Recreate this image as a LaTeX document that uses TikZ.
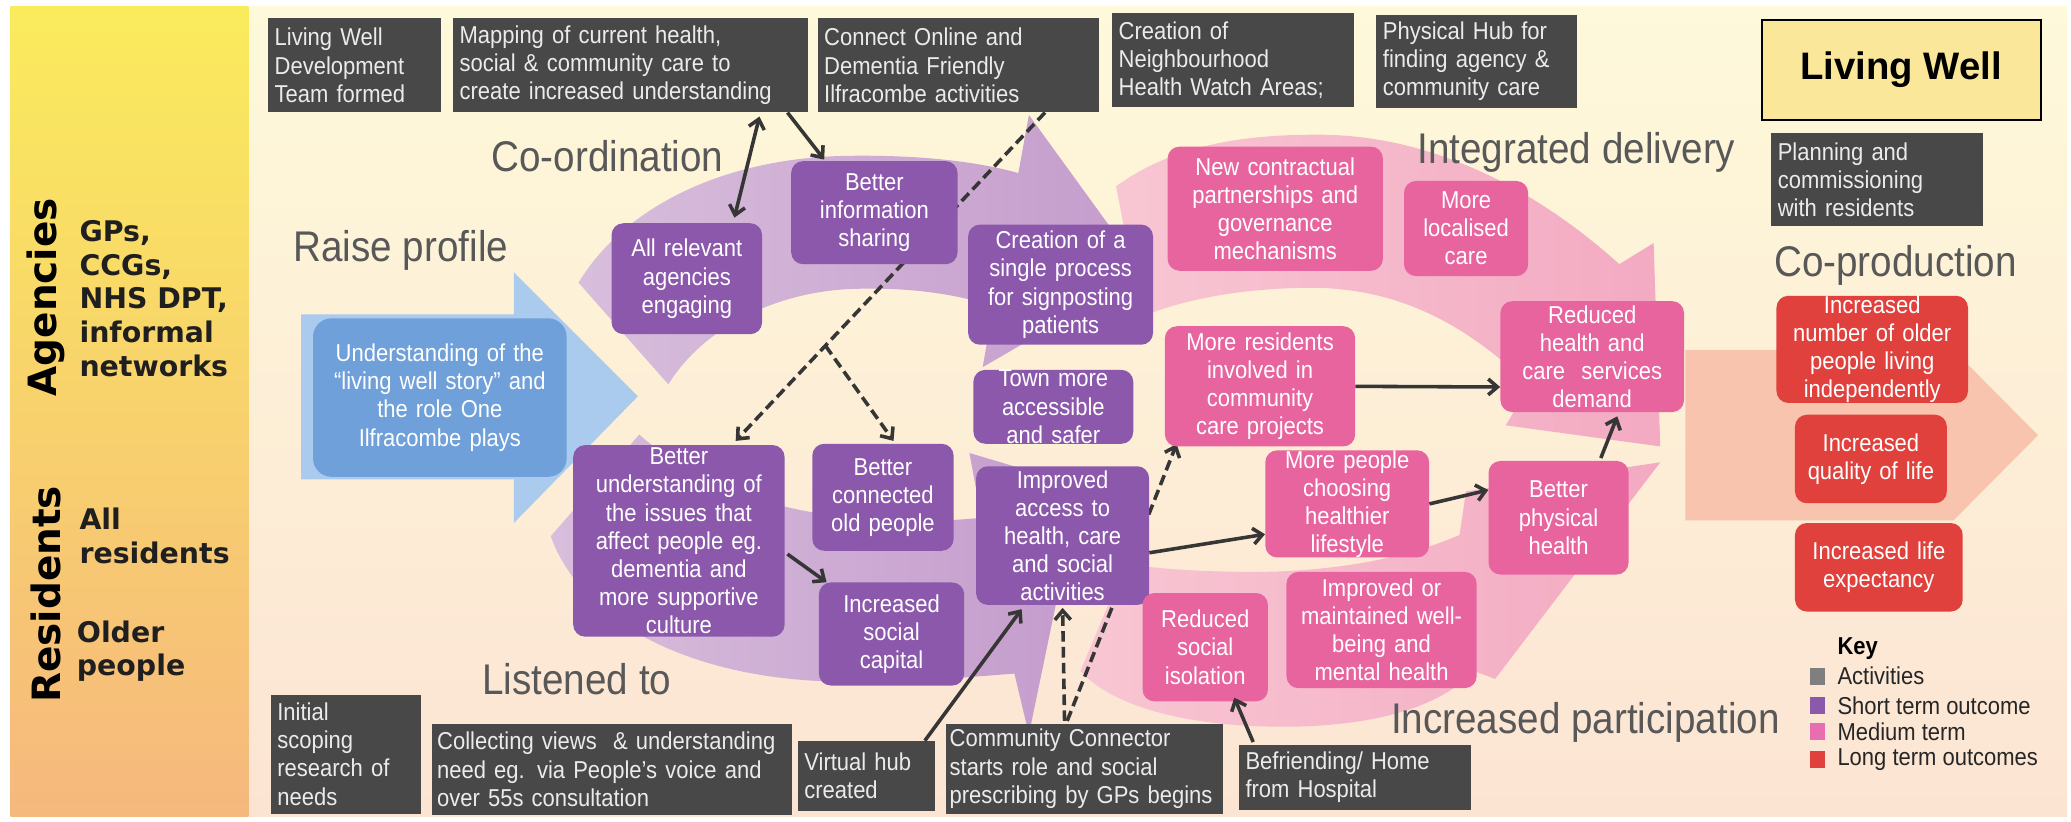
\documentclass[tikz,border=0pt]{standalone}
\usepackage{fontspec}
\setmainfont{Liberation Sans}
\newfontfamily\narrowsans{Liberation Sans}[FakeStretch=0.9]
\newfontfamily\heavysans{DejaVu Sans Bold}
\usetikzlibrary{arrows.meta,calc}
\pgfdeclarelayer{back}
\pgfdeclarelayer{under}
\pgfsetlayers{back,under,main}

\definecolor{actfill}{HTML}{484848}
\definecolor{shortfill}{HTML}{8C58AC}
\definecolor{medfill}{HTML}{E8649E}
\definecolor{longfill}{HTML}{E0413C}
\definecolor{bluebox}{HTML}{6FA0DA}
\definecolor{bluearrow}{HTML}{AACBEE}
\definecolor{purplelight}{HTML}{D8BEDC}
\definecolor{purplering}{HTML}{C49CCC}
\definecolor{pinklight}{HTML}{F8C6D3}
\definecolor{pinkring}{HTML}{F3AAC2}
\definecolor{salmon}{HTML}{F8C4AE}
\definecolor{labelgray}{HTML}{585858}
\definecolor{linkgray}{HTML}{363636}
\definecolor{creamtop}{HTML}{FEF9DA}
\definecolor{creambot}{HTML}{FCE4D3}
\definecolor{bandtop}{HTML}{FAEB5C}
\definecolor{bandmid}{HTML}{F9D466}
\definecolor{bandbot}{HTML}{F6B87E}
\definecolor{keygray}{HTML}{7F7F7F}
\definecolor{keypink}{HTML}{E86EB2}
\definecolor{livingwell}{HTML}{FBE79A}

\begin{document}
\begin{tikzpicture}[x=1pt,y=-1pt,
  boxtext/.style={font=\narrowsans\fontsize{18.5}{21.3}\selectfont,
    execute at begin node={\hyphenpenalty=10000\exhyphenpenalty=10000}},
  actbox/.style={boxtext, fill=actfill, text=white!92!black, align=left,
    inner xsep=5pt, inner ysep=0pt},
  outbox/.style={boxtext, rounded corners=9pt, text=white, align=center,
    inner xsep=2pt, inner ysep=0pt},
  shortbox/.style={outbox, fill=shortfill},
  medbox/.style={outbox, fill=medfill},
  longbox/.style={outbox, fill=longfill},
  phase/.style={font=\narrowsans\fontsize{32.5}{38}\selectfont, text=labelgray,
    inner sep=0pt, anchor=base west},
  sidehead/.style={font=\heavysans\fontsize{29.5}{32}\selectfont, rotate=90, inner sep=0pt},
  sidelist/.style={font=\heavysans\fontsize{21.5}{25.5}\selectfont, text=black!88,
    align=left, anchor=west, inner sep=0pt},
  keytext/.style={boxtext, text=black!85, anchor=west, inner sep=0pt},
  keysq/.style={minimum width=11pt, minimum height=13pt, inner sep=0pt},
  barb/.tip={Straight Barb[length=7pt,width=12pt]},
  link/.style={draw=linkgray, line width=2.7pt, -barb},
  dlink/.style={link, dash pattern=on 8pt off 4pt},
]
\useasboundingbox (0,0) rectangle (1568,622);

\begin{pgfonlayer}{back}
  % page, main panel and side band
  \fill[white] (0,0) rectangle (1568,622);
  \shade[top color=creamtop, bottom color=creambot] (8,5) rectangle (1565,618);
  \shade[top color=bandtop, middle color=bandmid, bottom color=bandbot] (8,5) rectangle (188,618);

  % raise profile arrow
  \fill[bluearrow] (228,238) -- (389,238) -- (389,206) -- (483,300)
    -- (389,396) -- (389,363) -- (228,363) -- cycle;

  % co-ordination / listened-to ring
  \shade[left color=purplelight, right color=purplering] (438,214)
    .. controls (472,158) and (545,120) .. (640,118)
    .. controls (700,117) and (742,123) .. (771,131)
    -- (779,87) -- (866,207) -- (744,278) -- (752,232)
    .. controls (720,221) and (680,217) .. (640,219)
    .. controls (580,223) and (530,252) .. (506,291) -- cycle;
  \shade[left color=purplelight, right color=purplering] (417,406)
    .. controls (440,470) and (520,513) .. (630,516)
    .. controls (690,517) and (740,512) .. (768,510)
    -- (779,556) -- (818,368) -- (734,343) -- (743,392)
    .. controls (705,396) and (665,394) .. (630,390)
    .. controls (570,383) and (515,357) .. (484,329) -- cycle;

  % integrated delivery / participation ring
  \shade[left color=pinklight, right color=pinkring] (845,141)
    .. controls (885,112) and (935,102) .. (995,102)
    .. controls (1085,101) and (1165,145) .. (1226,200)
    -- (1252,184) -- (1257,338) -- (1140,322) -- (1158,292)
    .. controls (1110,245) and (1060,220) .. (1000,218)
    .. controls (940,217) and (892,228) .. (864,240) -- cycle;
  \shade[left color=pinklight, right color=pinkring] (818,508)
    .. controls (845,538) and (910,552) .. (985,550)
    .. controls (1045,548) and (1090,535) .. (1116,508)
    -- (1132,514) -- (1257,350) -- (1110,372) -- (1105,405)
    .. controls (1060,425) and (1000,433) .. (950,433)
    .. controls (905,433) and (872,430) .. (852,427) -- cycle;

  % co-production arrow
  \fill[salmon] (1276,265) -- (1479,265) -- (1543,329.5) -- (1479,394)
    -- (1276,394) -- cycle;
\end{pgfonlayer}

% side band headings
\node[sidehead] (agencies) at (35,225) {Agencies};
\node[sidehead] (residents) at (35,450) {Residents};
\node[sidelist] (agencylist) at (60,226) {GPs,\\CCGs,\\NHS DPT,\\informal\\networks};
\node[sidelist] (allres) at (60,406) {All\\residents};
\node[sidelist] (older) at (58,493) {Older\\people};

% activities
\node[actbox, minimum width=131, minimum height=71, text width=121] (A1) at (268.5,49.5) {Living Well\\Development\\Team formed};
\node[actbox, minimum width=269, minimum height=71, text width=259] (A2) at (477.5,49.5) {Mapping of current health,\\social \& community care to\\create increased understanding};
\node[actbox, minimum width=213, minimum height=71, text width=203] (A3) at (725.5,49.5) {Connect Online and\\Dementia Friendly\\Ilfracombe activities};
\node[actbox, minimum width=183, minimum height=71, text width=173] (A4) at (933.5,45.5) {Creation of\\Neighbourhood\\Health Watch Areas;};
\node[actbox, minimum width=152, minimum height=71, text width=142] (A5) at (1118,46.5) {Physical Hub for\\finding agency \&\\community care};
\node[actbox, minimum width=160, minimum height=70, text width=150] (A6) at (1421,136) {Planning and\\commissioning\\with residents};
\node[actbox, minimum width=114, minimum height=90, text width=104] (B1) at (262,571) {Initial\\scoping\\research of\\needs};
\node[actbox, minimum width=273, minimum height=69, text width=265, inner xsep=4pt] (B2) at (463.5,582.5) {Collecting views~ \& understanding\\need eg. via People’s voice and\\over 55s consultation};
\node[actbox, minimum width=104, minimum height=53, text width=94] (B3) at (656,587.5) {Virtual hub\\created};
\node[actbox, minimum width=210, minimum height=68, text width=204, inner xsep=3pt] (B4) at (821,582) {Community Connector\\starts role and social\\prescribing by GPs begins};
\node[actbox, minimum width=176, minimum height=49, text width=166] (B5) at (1026,588.5) {Befriending/ Home\\from Hospital};

% title
\node[draw=black, line width=1.5pt, fill=livingwell, minimum width=211, minimum height=76,
  font=\bfseries\fontsize{29}{34}\selectfont] (LW) at (1439.5,53) {Living Well};

% starting point
\node[outbox, fill=bluebox, rounded corners=14pt, minimum width=192, minimum height=120,
  text width=188] (U) at (333,301) {Understanding of the\\“living well story” and\\the role One\\Ilfracombe plays};

% short term outcomes
\node[shortbox, minimum width=114, minimum height=84, text width=110] (P1) at (520,211) {All relevant\\agencies\\engaging};
\node[shortbox, minimum width=126, minimum height=78, text width=122] (P2) at (662,161) {Better\\information\\sharing};
\node[shortbox, minimum width=140, minimum height=91, text width=136] (P3) at (803,215.5) {Creation of a\\single process\\for signposting\\patients};
\node[shortbox, minimum width=121, minimum height=56, text width=117] (P4) at (797.5,308) {Town more\\accessible\\and safer};
\node[shortbox, minimum width=160, minimum height=145, text width=156] (P5) at (514,409.5) {Better\\understanding of\\the issues that\\affect people eg.\\dementia and\\more supportive\\culture};
\node[shortbox, minimum width=107, minimum height=81, text width=103] (P6) at (668.5,376.5) {Better\\connected\\old people};
\node[shortbox, minimum width=110, minimum height=78, text width=106] (P7) at (675,480) {Increased\\social\\capital};
\node[shortbox, minimum width=131, minimum height=105, text width=127] (P8) at (804.5,405.5) {Improved\\access to\\health, care\\and social\\activities};

% medium term outcomes
\node[medbox, minimum width=163, minimum height=94, text width=159] (K1) at (965.5,158) {New contractual\\partnerships and\\governance\\mechanisms};
\node[medbox, minimum width=94, minimum height=72, text width=90] (K2) at (1110,173) {More\\localised\\care};
\node[medbox, minimum width=139, minimum height=84, text width=135] (K3) at (1205.5,270) {Reduced\\health and\\care~ services\\demand};
\node[medbox, minimum width=144, minimum height=91, text width=140] (K4) at (954,292.5) {More residents\\involved in\\community\\care projects};
\node[medbox, minimum width=124, minimum height=75, text width=120] (K5) at (1020,381.5) {More people\\choosing\\healthier\\lifestyle};
\node[medbox, minimum width=106, minimum height=86, text width=102] (K6) at (1180,392) {Better\\physical\\health};
\node[medbox, minimum width=95, minimum height=82, text width=91] (K7) at (912.5,490) {Reduced\\social\\isolation};
\node[medbox, minimum width=144, minimum height=88, text width=140] (K8) at (1046,477) {Improved or\\maintained well-\\being and\\mental health};

% long term outcomes
\node[longbox, minimum width=145, minimum height=77, text width=141] (R1) at (1417.5,264.5) {Increased\\number of older\\people living\\independently};
\node[longbox, minimum width=115, minimum height=67, text width=111] (R2) at (1416.5,347.5) {Increased\\quality of life};
\node[longbox, minimum width=127, minimum height=67, text width=123] (R3) at (1422.5,429.5) {Increased life\\expectancy};

% links that run behind the boxes
\coordinate (c3top) at ($(A3.south east)+(-41,0)$);
\coordinate (c3bot) at ($(P5.north)+(43,-3)$);
\coordinate (ccfoot) at ($(B4.north)+(-13,-2)$);
\begin{pgfonlayer}{under}
  \draw[dlink] (c3top) -- (c3bot);
  \draw[dlink] ($(c3top)!0.71!(c3bot)$) -- ($(P6.north)+(8,-2)$);
  \draw[dlink] (ccfoot) -- ($(K4.south west)+(9,-2)$);
\end{pgfonlayer}

% links
\draw[link, barb-barb] ($(A2.south)+(97.5,3)$) -- ($(P1.north)+(36,-4)$);
\draw[link] ($(A2.south east)+(-16,0)$) -- ($(P2.north)+(-38,-1)$);
\draw[link] ($(P5.east)+(2,10)$) -- ($(P7.north west)+(6,0)$);
\draw[link] ($(B3.north east)+(-8,0)$) -- ($(P8.south)+(-31,3)$);
\draw[dlink] ($(B4.north)+(-15,-2)$) -- ($(P8.south)+(0,2)$);
\draw[link] ($(P8.east)+(0,13)$) -- ($(K5.west)+(0,23)$);
\draw[link] ($(B5.north west)+(11,-2)$) -- ($(K7.south)+(22,-3)$);
\draw[link] (K4.east) -- ($(K3.west)+(0,23)$);
\draw[link] (K5.east) -- ($(K6.west)+(0,-21)$);
\draw[link] ($(K6.north)+(32,-2)$) -- ($(K3.south)+(19,3)$);

% phase labels
\node[phase] (raise) at (222,198) {Raise profile};
\node[phase] (coord) at (372,130) {Co-ordination};
\node[phase] (integ) at (1073,124) {Integrated delivery};
\node[phase] (coprod) at (1343,209) {Co-production};
\node[phase] (listen) at (365,526) {Listened to};
\node[phase] (partic) at (1053,555) {Increased participation};

% key
\node[font=\narrowsans\bfseries\fontsize{18.5}{21}\selectfont, anchor=west, inner sep=0pt] (keyhead) at (1391,491) {Key};
\node[keysq, fill=keygray] (sq1) at (1376,512) {};
\node[keysq, fill=shortfill] (sq2) at (1376,534) {};
\node[keysq, fill=keypink] (sq3) at (1376,554) {};
\node[keysq, fill=longfill] (sq4) at (1376,575) {};
\node[keytext] (kt1) at (1391,512) {Activities};
\node[keytext] (kt2) at (1391,534) {Short term outcome};
\node[keytext] (kt3) at (1391,554) {Medium term};
\node[keytext] (kt4) at (1391,575) {Long term outcomes};
\end{tikzpicture}
\end{document}
